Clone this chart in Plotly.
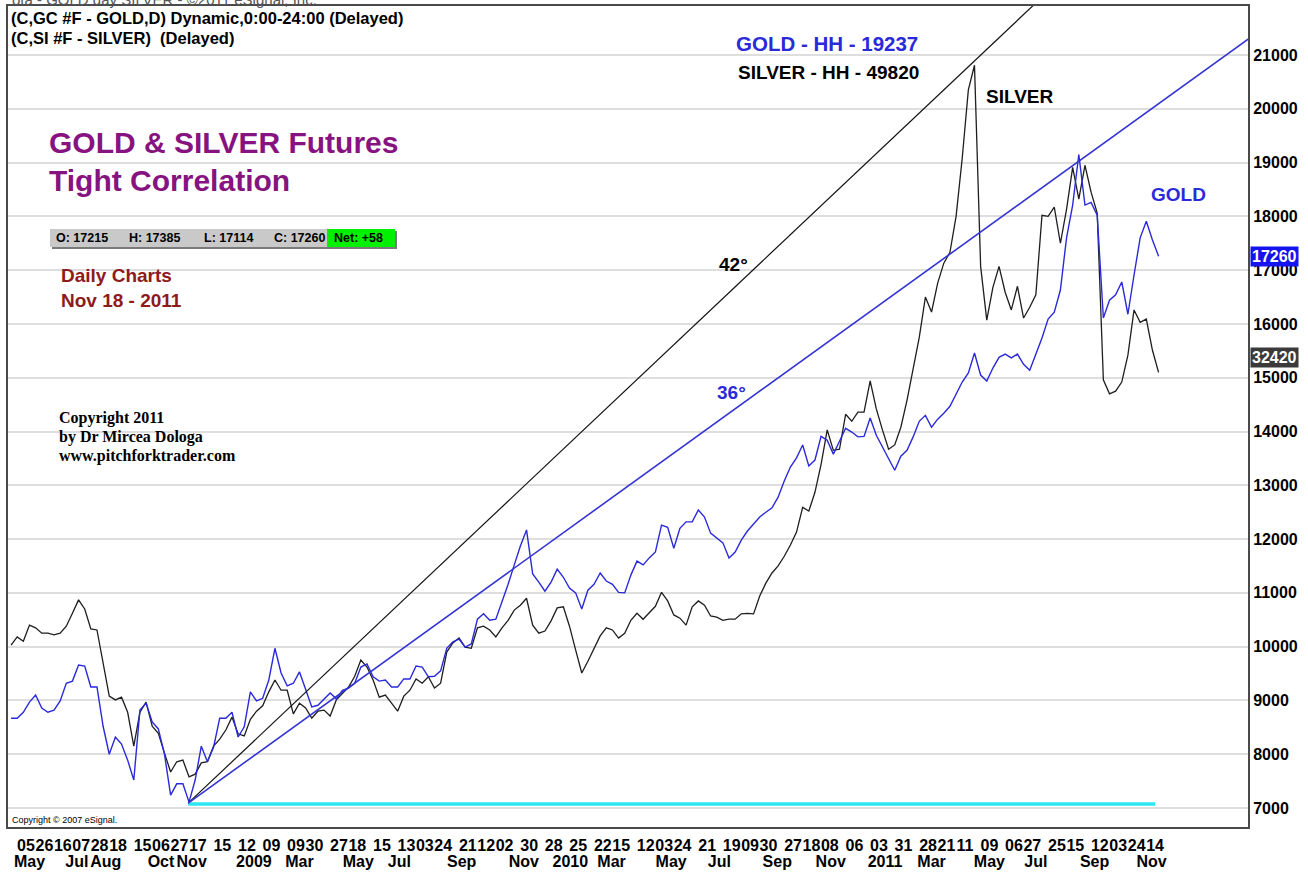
import pandas as pd
import plotly.graph_objects as go

# ---------------- data ----------------
week_dates = pd.date_range("2008-04-18", "2011-11-18", freq="W-FRI")  # weekly samples

gold = [8670, 8670, 8780, 8970, 9100, 8860, 8780, 8820, 8990, 9320,
        9360, 9660, 9640, 9250, 9250, 8520, 8000, 8320, 8190, 7890,
        7520, 8820, 8950, 8600, 8470, 8000, 7240, 7450, 7450, 7110,
        7520, 8150, 7860, 8130, 8670, 8670, 8780, 8320, 8510, 9160,
        8990, 9040, 9380, 9970, 9510, 9270, 9320, 9530, 9210, 8880,
        8910, 9030, 9140, 9030, 9190, 9230, 9320, 9620, 9680, 9440,
        9360, 9380, 9250, 9250, 9400, 9400, 9640, 9620, 9440, 9450,
        9550, 9970, 10090, 10140, 9990, 10050, 10510, 10610, 10490, 10510,
        10830, 11160, 11520, 11870, 12170, 11350, 11200, 11030, 11200, 11440,
        11290, 11090, 11000, 10700, 11050, 11160, 11370, 11220, 11160, 11010,
        11000, 11330, 11590, 11520, 11650, 11760, 12260, 12220, 11830, 12200,
        12320, 12320, 12540, 12410, 12110, 12020, 11930, 11650, 11760, 11980,
        12150, 12280, 12410, 12500, 12580, 12780, 13080, 13340, 13510, 13750,
        13360, 13470, 13910, 13840, 13580, 13820, 14060, 13990, 13900, 13910,
        14250, 13930, 13710, 13470, 13280, 13540, 13650, 13900, 14190, 14300,
        14080, 14230, 14340, 14470, 14710, 14920, 15090, 15460, 15050, 14940,
        15180, 15380, 15440, 15370, 15440, 15250, 15140, 15440, 15740, 16090,
        16220, 16630, 17600, 18210, 19150, 18210, 18260, 18020, 16110, 16440,
        16540, 16780, 16180, 16910, 17600, 17910, 17560, 17260]

silver = [10030, 10180, 10100, 10400, 10350, 10250, 10250, 10220, 10250, 10380,
          10620, 10870, 10700, 10330, 10310, 9710, 9080, 9010, 9060, 8780,
          8150, 8780, 8970, 8520, 8390, 8020, 7670, 7860, 7890, 7580,
          7630, 7840, 7860, 8150, 8280, 8450, 8690, 8380, 8340, 8650,
          8800, 8900, 9160, 9380, 9190, 9190, 8750, 8950, 8860, 8670,
          8800, 8820, 8710, 9010, 9140, 9250, 9450, 9750, 9620, 9380,
          9060, 9100, 8950, 8800, 9080, 9190, 9400, 9320, 9440, 9230,
          9320, 9900, 10070, 10160, 9990, 9970, 10350, 10380, 10310, 10180,
          10350, 10490, 10680, 10770, 10900, 10400, 10250, 10290, 10480, 10720,
          10740, 10380, 9940, 9510, 9730, 9970, 10200, 10350, 10310, 10160,
          10250, 10490, 10620, 10510, 10640, 10750, 11010, 10850, 10590, 10530,
          10400, 10740, 10850, 10770, 10570, 10550, 10490, 10510, 10510, 10610,
          10620, 10610, 10940, 11180, 11370, 11500, 11680, 11890, 12130, 12590,
          12520, 12870, 13390, 14030, 13650, 13670, 14320, 14190, 14360, 14360,
          14940, 14420, 14030, 13670, 13750, 14080, 14580, 15160, 15750, 16500,
          16220, 16760, 17130, 17330, 18000, 19080, 20350, 20810, 17070, 16070,
          16680, 17070, 16590, 16260, 16700, 16110, 16310, 16540, 18020, 18000,
          18170, 17500, 18130, 18910, 18320, 18950, 18450, 18060, 14960, 14700,
          14750, 14920, 15420, 16260, 16030, 16090, 15510, 15100]

# trend lines (anchor points)
trend_dates_42 = ["2008-11-06", "2011-07-23"]
trend_vals_42 = [7090, 22306]
trend_dates_36 = ["2008-11-06", "2012-03-12"]
trend_vals_36 = [7090, 21446]
support_dates = ["2008-11-06", "2011-11-14"]
support_vals = [7075, 7075]

gold_last = 17260
silver_flag_level = 15380

# axis ticks
day_tick_dates = ["2008-05-05", "2008-05-26", "2008-06-16", "2008-07-07", "2008-07-28", "2008-08-18",
                  "2008-09-15", "2008-10-06", "2008-10-27", "2008-11-17", "2008-12-15", "2009-01-12",
                  "2009-02-09", "2009-03-09", "2009-03-30", "2009-04-27", "2009-05-18", "2009-06-15",
                  "2009-07-13", "2009-08-03", "2009-08-24", "2009-09-21", "2009-10-12", "2009-11-02",
                  "2009-11-30", "2009-12-28", "2010-01-25", "2010-02-22", "2010-03-15", "2010-04-12",
                  "2010-05-03", "2010-05-24", "2010-06-21", "2010-07-19", "2010-08-09", "2010-08-30",
                  "2010-09-27", "2010-10-18", "2010-11-08", "2010-12-06", "2011-01-03", "2011-01-31",
                  "2011-02-28", "2011-03-21", "2011-04-11", "2011-05-09", "2011-06-06", "2011-06-27",
                  "2011-07-25", "2011-08-15", "2011-09-12", "2011-10-03", "2011-10-24", "2011-11-14"]
day_tick_labels = ["05", "26", "16", "07", "28", "18", "15", "06", "27", "17", "15", "12",
                   "09", "09", "30", "27", "18", "15", "13", "03", "24", "21", "12", "02",
                   "30", "28", "25", "22", "15", "12", "03", "24", "21", "19", "09", "30",
                   "27", "18", "08", "06", "03", "31", "28", "21", "11", "09", "06", "27",
                   "25", "15", "12", "03", "24", "14"]
month_tick_dates = ["2008-05-09", "2008-07-02", "2008-08-04", "2008-10-06", "2008-11-10", "2009-01-20",
                    "2009-03-13", "2009-05-19", "2009-07-05", "2009-09-14", "2009-11-24", "2010-01-16",
                    "2010-03-04", "2010-05-11", "2010-07-05", "2010-09-09", "2010-11-09", "2011-01-10",
                    "2011-03-04", "2011-05-09", "2011-07-01", "2011-09-06", "2011-11-10"]
month_tick_labels = ["May", "Jul", "Aug", "Oct", "Nov", "2009", "Mar", "May", "Jul", "Sep", "Nov", "2010",
                     "Mar", "May", "Jul", "Sep", "Nov", "2011", "Mar", "May", "Jul", "Sep", "Nov"]
price_ticks = [7000, 8000, 9000, 10000, 11000, 12000, 13000, 14000,
               15000, 16000, 17000, 18000, 19000, 20000, 21000]

x_range = ["2008-04-14 12:00", "2012-02-28"]
y_range = [6647, 21911]

# ---------------- layout helpers ----------------
W, H = 1308, 872
ML, MR, MT, MB = 8, 60, 6, 45
PW, PH = W - ML - MR, H - MT - MB


def px(x):
    return (x - ML) / PW


def py(y):
    return (H - MB - y) / PH


SANS = "Liberation Sans, Arial, sans-serif"
SERIF = "Liberation Serif, Times New Roman, serif"
BLUE = "#2A2ADB"

fig = go.Figure()

fig.add_trace(go.Scatter(x=support_dates, y=support_vals, mode="lines",
                         line=dict(color="#2EE6F2", width=3.5), hoverinfo="skip"))
fig.add_trace(go.Scatter(x=week_dates, y=silver, mode="lines",
                         line=dict(color="#1E1E1E", width=1.3), hoverinfo="skip"))
fig.add_trace(go.Scatter(x=week_dates, y=gold, mode="lines",
                         line=dict(color=BLUE, width=1.4), hoverinfo="skip"))
fig.add_trace(go.Scatter(x=trend_dates_42, y=trend_vals_42, mode="lines",
                         line=dict(color="#111111", width=1.2), hoverinfo="skip"))
fig.add_trace(go.Scatter(x=trend_dates_36, y=trend_vals_36, mode="lines",
                         line=dict(color="#3434D4", width=1.6), hoverinfo="skip"))
# carrier for the month axis
fig.add_trace(go.Scatter(x=month_tick_dates, y=[price_ticks[0]] * len(month_tick_dates),
                         xaxis="x2", mode="markers", marker=dict(opacity=0, size=1),
                         hoverinfo="skip"))

tickfont = dict(family=SANS, size=16, color="black", weight="bold")

fig.update_layout(
    width=W, height=H,
    margin=dict(l=ML, r=MR, t=MT, b=MB, autoexpand=False),
    paper_bgcolor="white", plot_bgcolor="white",
    showlegend=False, hovermode=False,
    xaxis=dict(type="date", range=x_range, tickmode="array", automargin=False,
               tickvals=day_tick_dates, ticktext=day_tick_labels, tickangle=0,
               ticks="", showgrid=False, zeroline=False, showline=True, mirror=True,
               linecolor="#4A4A4A", linewidth=2, tickfont=tickfont, ticklabelstandoff=3),
    xaxis2=dict(type="date", range=x_range, overlaying="x", side="bottom", anchor="y",
                automargin=False,
                tickmode="array", tickvals=month_tick_dates, ticktext=month_tick_labels,
                tickangle=0, ticks="", showgrid=False, zeroline=False, showline=False,
                ticklabelstandoff=23, tickfont=tickfont),
    yaxis=dict(side="right", range=y_range, tickmode="array", tickvals=price_ticks,
               automargin=False,
               ticktext=[str(v) for v in price_ticks], ticks="", showgrid=True,
               gridcolor="#DEDEDE", gridwidth=1.5, zeroline=False, showline=True,
               mirror=True, linecolor="#4A4A4A", linewidth=2, tickfont=tickfont),
)

ann = []


def text(x, y, s, size, color="black", family=SANS, anchor="left", **kw):
    ann.append(dict(x=px(x), y=py(y), xref="paper", yref="paper", text=s,
                    showarrow=False, xanchor=anchor, yanchor="middle",
                    font=dict(family=family, size=size, color=color), **kw))


text(10, -1, "ota - GOLD day SILVER - \u00a92011 eSignal, Inc.", 15, "#555555")
text(9, 18, "<b>(C,GC #F - GOLD,D) Dynamic,0:00-24:00 (Delayed)</b>", 16.5)
text(9, 38, "<b>(C,SI #F - SILVER)\u00a0\u00a0(Delayed)</b>", 16.5)
text(47, 142, "<b>GOLD &amp; SILVER Futures</b>", 30, "#86137F")
text(47, 181, "<b>Tight Correlation</b>", 30, "#86137F")
text(59, 275, "<b>Daily Charts</b>", 19, "#8E1A1A")
text(59, 300, "<b>Nov 18 - 2011</b>", 19, "#8E1A1A")
text(57, 418, "<b>Copyright 2011</b>", 16, "black", SERIF)
text(57, 437, "<b>by Dr Mircea Dologa</b>", 16, "black", SERIF)
text(57, 456, "<b>www.pitchforktrader.com</b>", 16, "black", SERIF)
text(734, 43, "<b>GOLD - HH - 19237</b>", 20.5, BLUE)
text(736, 72, "<b>SILVER - HH - 49820</b>", 19, "black")
text(984, 97, "<b>SILVER</b>", 19, "black")
text(1149, 194, "<b>GOLD</b>", 19, BLUE)
text(717, 264, "<b>42\u00b0</b>", 19, "black")
text(715, 392, "<b>36\u00b0</b>", 19, BLUE)
text(10, 820, "Copyright \u00a9 2007 eSignal.", 9, "black")

# OHLC strip
text(54, 238, "<b>O: 17215</b>", 12.5)
text(127, 238, "<b>H: 17385</b>", 12.5)
text(202, 238, "<b>L: 17114</b>", 12.5)
text(272, 238, "<b>C: 17260</b>", 12.5)
text(332, 238, "<b>Net: +58</b>", 12.5)

# price flags on the right axis
ann.append(dict(x=px(1250), y=gold_last, xref="paper", yref="y", text="<b>17260</b>",
                showarrow=False, xanchor="left", yanchor="middle", bgcolor="#1414F0",
                borderpad=1, font=dict(family=SANS, size=16, color="white")))
ann.append(dict(x=px(1250), y=silver_flag_level, xref="paper", yref="y", text="<b>32420</b>",
                showarrow=False, xanchor="left", yanchor="middle", bgcolor="#3A3A3A",
                borderpad=1, font=dict(family=SANS, size=16, color="white")))

shapes = [
    dict(type="rect", xref="paper", yref="paper", x0=px(52), x1=px(397), y0=py(249), y1=py(231),
         fillcolor="#7A7A7A", line=dict(width=0), layer="above"),
    dict(type="rect", xref="paper", yref="paper", x0=px(50), x1=px(395), y0=py(247), y1=py(229),
         fillcolor="#C9C9C9", line=dict(width=0), layer="above"),
    dict(type="rect", xref="paper", yref="paper", x0=px(327), x1=px(395), y0=py(247), y1=py(229),
         fillcolor="#00F000", line=dict(width=0), layer="above"),
]

fig.update_layout(annotations=ann, shapes=shapes)

fig.write_html("out.html", config={"displayModeBar": False},
               post_script="document.body.style.margin='0';document.body.style.overflow='hidden';")
